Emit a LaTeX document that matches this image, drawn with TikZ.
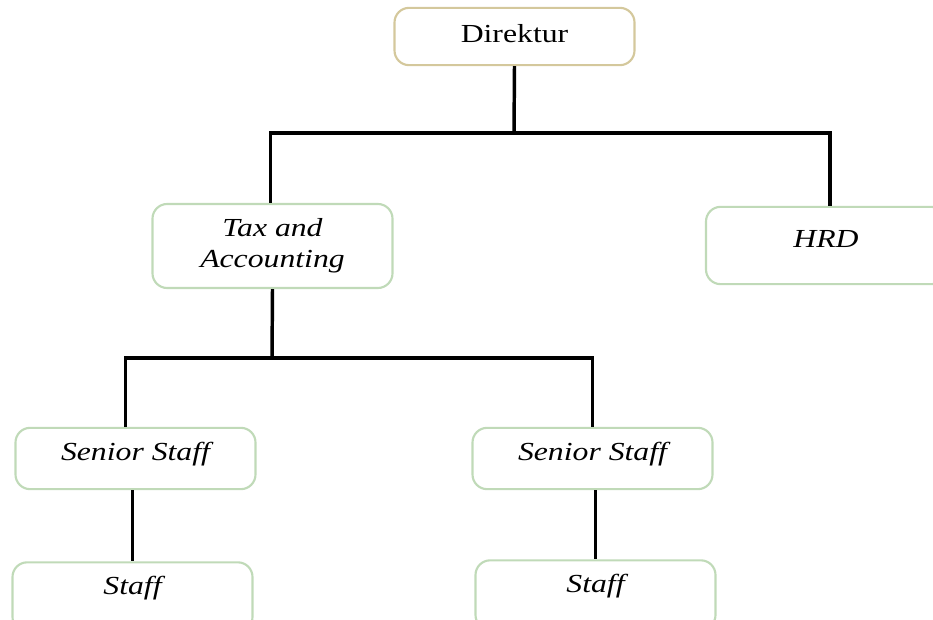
\documentclass[tikz,border=0pt]{standalone}
\usepackage{fontspec}
\setmainfont{Liberation Serif}[
  UprightFeatures={FakeStretch=1.22},
  ItalicFeatures={FakeStretch=1.22}]
\definecolor{boxgreen}{RGB}{192,218,184}
\definecolor{boxtan}{RGB}{212,200,156}
\tikzset{
  unit/.style={draw=boxgreen, line width=1.6pt, rounded corners=11pt,
    minimum width=180pt, align=center,
    font=\fontsize{19.5}{23}\selectfont\itshape},
  oneline/.style={text height=13pt, text depth=#1},
  link/.style={line width=2.6pt, black}
}
\begin{document}
\begin{tikzpicture}[x=0.75pt,y=-0.75pt]
        \useasboundingbox (0,0) rectangle (933,620);
        \clip (0,0) rectangle (933,620);
        % boxes
        \node[unit, draw=boxtan, font=\fontsize{19.5}{23}\selectfont,
          minimum height=43pt, oneline=4pt] (dir) at (514.5,36.5) {Direktur};
        \node[unit, minimum height=63pt] (tax) at (272.5,246) {Tax and\\Accounting};
        \node[unit, minimum height=58pt, oneline=10pt] (hrd) at (826,245.5) {HRD};
        \foreach \i/\x in {1/135.5,2/592.5}{
          \node[unit, minimum height=46pt, oneline=10pt] (sen\i) at (\x,458.5) {Senior Staff};
        }
        \node[unit, minimum height=52pt, oneline=17pt] (stf1) at (132.5,597) {Staff};
        \node[unit, minimum height=52pt, oneline=17pt] (stf2) at (595.5,595) {Staff};
        % lines
        \coordinate (top) at (514,133);
        \coordinate (mid) at (272,358);
        \coordinate (drop) at ([xshift=-7.5pt]sen1.north);
        \coordinate (rise) at ([xshift=3pt]hrd.north);
        \draw[link] (dir.south) -- (top);
        \draw[link] ([xshift=-1.5pt]tax.north) -- ([xshift=-1.5pt]tax.north |- top) -- (rise |- top) -- (rise);
        \draw[link] (tax.south) -- (mid);
        \draw[link] (drop) -- (drop |- mid) -- (sen2.north |- mid) -- (sen2.north);
        \foreach \i in {1,2}{
          \draw[link] (stf\i.north |- sen\i.south) -- (stf\i.north);
        }

      \end{tikzpicture}
\end{document}
